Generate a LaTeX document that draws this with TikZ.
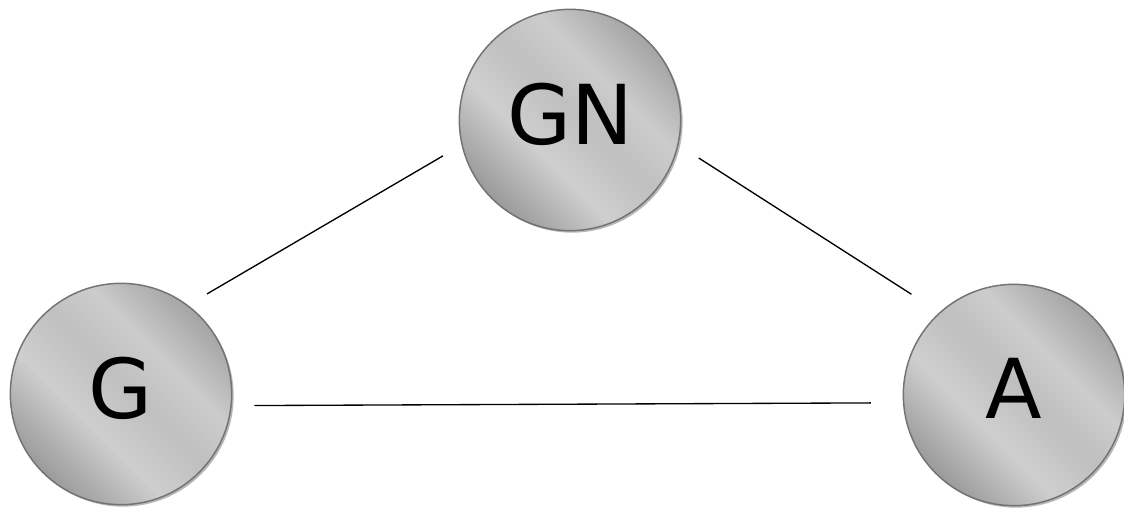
\documentclass[tikz,border=0pt]{standalone}
\usepackage{fontspec}
\setmainfont{DejaVu Sans}
\usepackage{tikz}
\usetikzlibrary{shadows}
\usetikzlibrary{positioning}
\usetikzlibrary{calc}
\pgfdeclarehorizontalshading{metal}{100bp}{color(0bp)=(black!48); color(20bp)=(black!46); color(40bp)=(black!19); color(52bp)=(black!25); color(62bp)=(black!20); color(84bp)=(black!46); color(100bp)=(black!48)}
\tikzstyle{vertex}=[circle,draw=black!55,line width=1.1pt,shading=metal,shading angle=45,minimum size=166pt,inner sep=0pt,font=\fontsize{62}{62}\selectfont,text depth=10pt,drop shadow={shadow xshift=1.5pt,shadow yshift=-1.5pt,fill=black!40,opacity=0.7}]
\tikzstyle{undirectededge} = [draw,line width=1pt]

\begin{document}
\begin{tikzpicture}[x=0.75pt,y=0.75pt]
 \useasboundingbox (0,0) rectangle (1124,-510);

 % the three vertices
 \foreach \x/\y/\name/\label in {570/-120/GN/GN, 121/-394/G/G, 1014/-395/A/A}
   \node[vertex] (\name) at (\x,\y) {\label};

 % edges, kept off the circles
 \foreach \source/\sa/\dest/\da/\sg/\dg in {GN/193/G/53/16/16.5, GN/347/A/132/18/25, G/354/A/184/17/24}
   \path[undirectededge, shorten <=\sg pt, shorten >=\dg pt] (\source.\sa) -- (\dest.\da);
\end{tikzpicture}
\end{document}
